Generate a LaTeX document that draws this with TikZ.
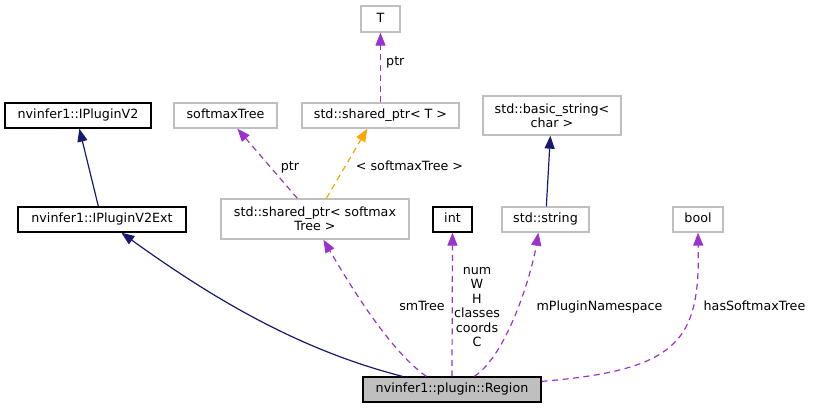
\documentclass[tikz,border=0pt]{standalone}
\usepackage{fontspec}
\setmainfont{DejaVu Sans}
\usetikzlibrary{arrows.meta}
\definecolor{navyedge}{HTML}{191970}
\definecolor{purpleedge}{HTML}{9A32CD}
\definecolor{orangeedge}{HTML}{FFA500}
\definecolor{graybox}{HTML}{BFBFBF}
\begin{document}
\begin{tikzpicture}[x=1pt,y=-1pt,
  every node/.style={font=\fontsize{12.7}{14.4}\selectfont, inner sep=0pt},
  box/.style={draw=graybox, line width=1.3pt, fill=white, align=center},
  docbox/.style={box, draw=black},
  oneline/.style={text height=9.2pt, text depth=2.6pt},
  lbl/.style={align=center},
  inherit/.style={draw=navyedge, line width=1.2pt, -{Triangle[length=13pt,width=10pt]}},
  usage/.style={draw=purpleedge, line width=1.2pt, dash pattern=on 6pt off 4.5pt, -{Triangle[length=13pt,width=10pt]}},
  templ/.style={usage, draw=orangeedge}]
\useasboundingbox (0,0) rectangle (814,408);

% nodes
\node[box, oneline, minimum width=39pt, minimum height=26pt] (T) at (380.5,19) {T};
\node[box, oneline, minimum width=157pt, minimum height=25pt] (sptrT) at (380.5,115.5) {std::shared\_ptr< T >};
\node[box, oneline, minimum width=103pt, minimum height=25pt] (smt) at (225.5,115.5) {softmaxTree};
\node[box, minimum width=188pt, minimum height=40pt] (sptrS) at (315,219) {std::shared\_ptr< softmax\\Tree >};
\node[docbox, oneline, minimum width=39pt, minimum height=25pt] (int) at (452.5,219.5) {int};
\node[box, oneline, minimum width=87pt, minimum height=25pt] (str) at (545.5,219.5) {std::string};
\node[box, minimum width=138pt, minimum height=39pt] (bstr) at (552,115.5) {std::basic\_string<\\char >};
\node[box, oneline, minimum width=50pt, minimum height=25pt] (bool) at (698,219.5) {bool};
\node[docbox, oneline, fill=graybox, minimum width=178pt, minimum height=25pt] (region) at (452,389.5) {nvinfer1::plugin::Region};
\node[docbox, oneline, minimum width=146pt, minimum height=25pt] (v2) at (78,115.5) {nvinfer1::IPluginV2};
\node[docbox, oneline, minimum width=168pt, minimum height=25pt] (v2ext) at (102,219.5) {nvinfer1::IPluginV2Ext};

% edges
\draw[inherit] ([xshift=81pt]v2ext.north west) -- ([xshift=75pt]v2.south west);
\draw[inherit] ([xshift=40pt]region.north west) .. controls (300,350) and (215,300) .. ([xshift=104pt]v2ext.south west);
\draw[inherit] ([xshift=45pt]str.north west) -- ([xshift=68pt]bstr.south west);
\draw[usage] (sptrT.north) -- (T.south);
\draw[usage] ([xshift=77pt]sptrS.north west) -- ([xshift=64pt]smt.south west);
\draw[templ] ([xshift=106pt]sptrS.north west) -- ([xshift=66pt]sptrT.south west);
\draw[usage] ([xshift=64pt]region.north west) .. controls (387,349) and (343,273) .. ([xshift=103pt]sptrS.south west);
\draw[usage] (region.north) -- (int.south);
\draw[usage] ([xshift=112pt]region.north west) .. controls (508,354) and (532,272) .. ([xshift=37pt]str.south west);
\draw[usage] ([yshift=-5pt]region.north east) .. controls (680,370) and (700,340) .. (bool.south);

% labels
\node[oneline, anchor=west] (lptrT) at (386,62) {ptr};
\node[oneline] (lptrS) at (290,167) {ptr};
\node[oneline] (ltempl) at (409.5,167) {< softmaxTree >};
\node[oneline] (lsm) at (422,307) {smTree};
\node[lbl] (lint) at (477,307) {num\\W\\H\\classes\\coords\\C};
\node[oneline] (lstr) at (599.5,307) {mPluginNamespace};
\node[oneline] (lbool) at (754.5,307) {hasSoftmaxTree};
\end{tikzpicture}
\end{document}
